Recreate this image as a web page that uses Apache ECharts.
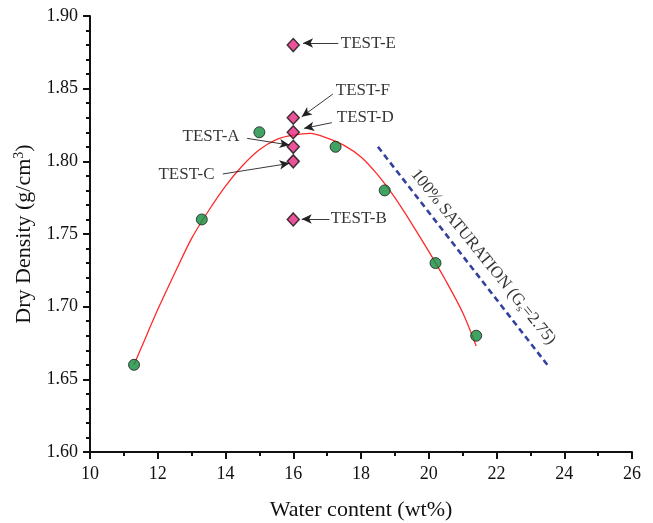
<!DOCTYPE html>
<html>
<head>
<meta charset="utf-8">
<script src="https://cdn.jsdelivr.net/npm/echarts@6/dist/echarts.min.js"></script>
<style>
  html, body { margin: 0; padding: 0; background: #fff; }
  #main { width: 653px; height: 523px; }
</style>
</head>
<body>
<div id="main"></div>
<script>
// compaction test points (green)
var compactW = [11.3, 13.3, 15.0, 17.25, 18.7, 20.2, 21.4];
var compactD = [1.66, 1.76, 1.82, 1.81, 1.78, 1.73, 1.68];

// fitted curve
var fitW = [11.3, 11.5, 12.0, 12.5, 13.0, 13.5, 14.0, 14.5, 15.0, 15.5, 16.0, 16.5, 17.0, 17.5, 18.0, 18.5, 19.0, 19.5, 20.0, 20.5, 21.0, 21.4];
var fitD = [1.660, 1.671, 1.698, 1.723, 1.747, 1.766, 1.783, 1.797, 1.808, 1.815, 1.818, 1.8192, 1.816, 1.811, 1.803, 1.7905, 1.775, 1.757, 1.738, 1.718, 1.696, 1.673];

// test specimens (pink diamonds)
var testNames = ['TEST-A', 'TEST-B', 'TEST-C', 'TEST-D', 'TEST-E', 'TEST-F'];
var testW = [16, 16, 16, 16, 16, 16];
var testD = [1.81, 1.76, 1.80, 1.82, 1.88, 1.83];

// annotation anchors (data coords)
var labelAt = [[14.43, 1.8169], [17.09, 1.7603], [13.69, 1.7906], [17.27, 1.8298], [17.39, 1.8814], [17.24, 1.8484]];
var labelSide = ['left', 'right', 'left', 'right', 'right', 'right'];
var arrowFrom = [[14.64, 1.8158], [17.07, 1.7603], [13.92, 1.7913], [17.14, 1.8266], [17.33, 1.8814], [17.17, 1.8463]];
var arrowTo = [[15.89, 1.8112], [16.25, 1.7603], [15.89, 1.7986], [16.32, 1.8227], [16.29, 1.8814], [16.25, 1.8307]];

// 100% saturation line
var satW = [18.5, 23.5];
var satD = [1.81, 1.66];
var satLabelAt = [21.61, 1.7341];

var FONT = '"Liberation Serif", "Times New Roman", serif';

function zip(a, b) {
    var out = [];
    for (var i = 0; i < a.length; i++) {
        out.push([a[i], b[i]]);
    }
    return out;
}

var chart = echarts.init(document.getElementById('main'));

var labelData = [];
for (var i = 0; i < testNames.length; i++) {
    labelData.push({
        value: labelAt[i],
        label: { show: true, position: labelSide[i], distance: 0, formatter: testNames[i] }
    });
}
labelData.push({
    value: satLabelAt,
    label: {
        show: true,
        position: 'inside',
        rotate: -51,
        formatter: '100% SATURATION (G{sub|s}=2.75)',
        rich: {
            sub: { fontSize: 11, fontFamily: FONT, color: '#000', padding: [9, 0, 0, 0] }
        }
    }
});

var arrows = [];
for (var j = 0; j < arrowFrom.length; j++) {
    arrows.push([{ coord: arrowFrom[j] }, { coord: arrowTo[j] }]);
}

var option = {
    backgroundColor: '#fff',
    animation: false,
    grid: { left: 90, right: 21, top: 16, bottom: 71, containLabel: false, outerBoundsMode: 'none' },
    xAxis: {
        type: 'value',
        min: 10, max: 26, interval: 2,
        name: 'Water content (wt%)',
        nameLocation: 'middle',
        nameGap: 47,
        nameTextStyle: { fontFamily: FONT, fontSize: 22, color: '#111' },
        axisLine: { show: true, onZero: false, lineStyle: { color: '#111', width: 2 } },
        axisTick: { show: true, length: 7, lineStyle: { color: '#111', width: 2 } },
        minorTick: { show: true, splitNumber: 2, length: 4, lineStyle: { color: '#111', width: 2 } },
        axisLabel: { fontFamily: FONT, fontSize: 18, color: '#111', margin: 13 },
        splitLine: { show: false }
    },
    yAxis: {
        type: 'value',
        min: 1.60, max: 1.90, interval: 0.05,
        name: 'Dry Density (g/cm{sup|3})',
        nameLocation: 'middle',
        nameGap: 52,
        nameRotate: 90,
        nameTextStyle: {
            fontFamily: FONT, fontSize: 22, color: '#111',
            rich: { sup: { fontFamily: FONT, fontSize: 14, color: '#111', padding: [0, 0, 10, 0] } }
        },
        axisLine: { show: true, onZero: false, lineStyle: { color: '#111', width: 2 } },
        axisTick: { show: true, length: 7, lineStyle: { color: '#111', width: 2 } },
        minorTick: { show: true, splitNumber: 5, length: 4, lineStyle: { color: '#111', width: 2 } },
        axisLabel: {
            fontFamily: FONT, fontSize: 18, color: '#111', margin: 12,
            formatter: function (v) { return v.toFixed(2); }
        },
        splitLine: { show: false }
    },
    series: [
        {
            name: 'fit',
            type: 'line',
            data: zip(fitW, fitD),
            smooth: 0.3,
            showSymbol: false,
            lineStyle: { color: '#ff2a2a', width: 1.3 },
            z: 2
        },
        {
            name: 'saturation',
            type: 'line',
            data: zip(satW, satD),
            showSymbol: false,
            lineStyle: { color: '#3340a0', width: 2.6, type: [6, 4] },
            z: 2
        },
        {
            name: 'compaction',
            type: 'scatter',
            data: zip(compactW, compactD),
            symbol: 'circle',
            symbolSize: 11,
            itemStyle: { color: '#128c3c', borderColor: '#1a1a1a', borderWidth: 1 },
            z: 4
        },
        {
            name: 'tests',
            type: 'scatter',
            data: zip(testW, testD),
            symbol: 'diamond',
            symbolSize: [12, 13],
            itemStyle: { color: '#e6287f', borderColor: '#111', borderWidth: 1.5 },
            z: 5
        },
        {
            name: 'labels',
            type: 'scatter',
            data: labelData,
            symbol: 'circle',
            symbolSize: 1,
            itemStyle: { color: 'rgba(0,0,0,0)' },
            silent: true,
            label: { fontFamily: FONT, fontSize: 17, color: '#000' },
            markLine: {
                silent: true,
                symbol: ['none', 'arrow'],
                symbolSize: [7, 10],
                label: { show: false },
                lineStyle: { color: '#222', width: 0.9, type: 'solid' },
                data: arrows
            },
            z: 6
        }
    ]
};

chart.setOption(option);
</script>
</body>
</html>
